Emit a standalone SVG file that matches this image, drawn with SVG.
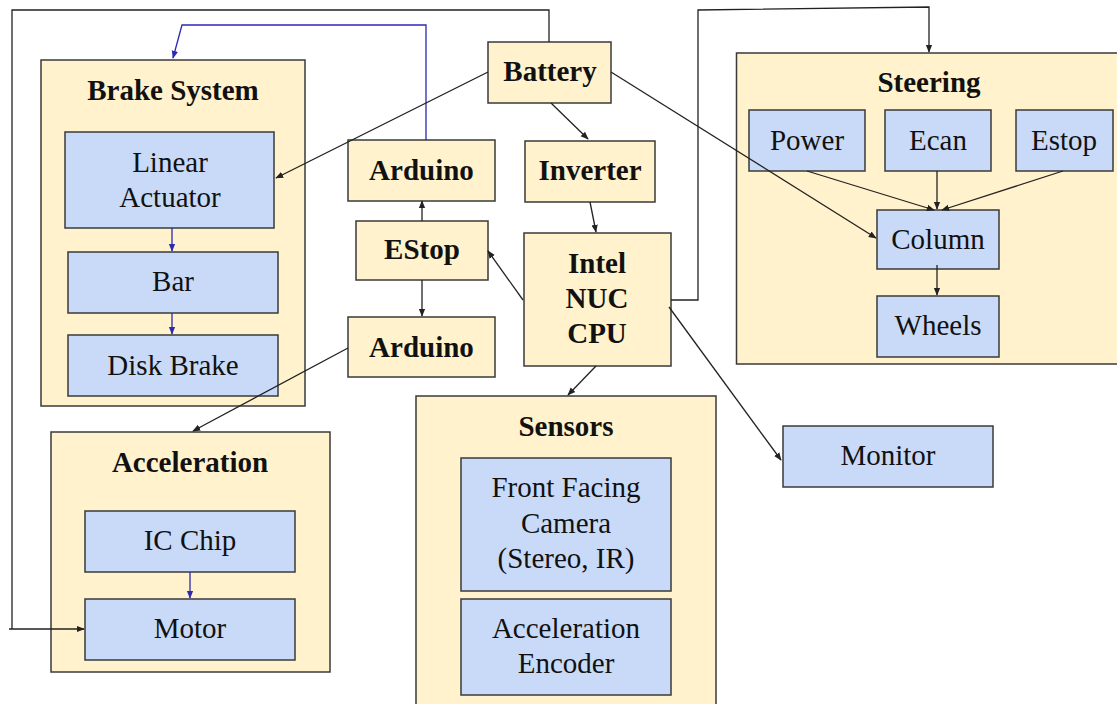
<svg xmlns="http://www.w3.org/2000/svg" width="1117" height="704" viewBox="0 0 1117 704">
<style>
.grp{fill:#fff2cc;stroke:#3a3a3a;stroke-width:1.5}
.box{fill:#c9daf8;stroke:#3a3a3a;stroke-width:1.5}
.t{font-family:"Liberation Serif","Times New Roman",serif;font-size:29px;fill:#111;text-anchor:middle}
.b{font-weight:bold}
.c{fill:none;stroke:#222;stroke-width:1.3}
.cb{fill:none;stroke:#2a2ab4;stroke-width:1.3}
</style>
<defs>
<marker id="ah" viewBox="0 0 10 10" refX="9" refY="5" markerWidth="8" markerHeight="8" markerUnits="userSpaceOnUse" orient="auto"><path d="M0,1 L10,5 L0,9 z" fill="#222"/></marker>
<marker id="ahb" viewBox="0 0 10 10" refX="9" refY="5" markerWidth="8" markerHeight="8" markerUnits="userSpaceOnUse" orient="auto"><path d="M0,1 L10,5 L0,9 z" fill="#2a2ab4"/></marker>
</defs>
<rect width="1117" height="704" fill="#ffffff"/>

<g id="brake-system">
<rect class="grp" x="41" y="60" width="264" height="346"/>
<text class="t b" x="173" y="100">Brake System</text>
</g>
<g id="linear-actuator">
<rect class="box" x="65" y="132" width="209" height="96"/>
<text class="t" x="170" y="172">Linear</text>
<text class="t" x="170" y="207">Actuator</text>
</g>
<g id="bar">
<rect class="box" x="68" y="252" width="210" height="61"/>
<text class="t" x="173" y="291">Bar</text>
</g>
<g id="disk-brake">
<rect class="box" x="68" y="335" width="210" height="61"/>
<text class="t" x="173" y="375">Disk Brake</text>
</g>

<g id="battery">
<rect class="grp" x="488" y="42" width="123" height="61"/>
<text class="t b" x="550" y="81">Battery</text>
</g>
<g id="arduino-top">
<rect class="grp" x="348" y="140" width="147" height="61"/>
<text class="t b" x="421.5" y="180">Arduino</text>
</g>
<g id="estop">
<rect class="grp" x="356" y="221" width="132" height="59"/>
<text class="t b" x="422" y="259">EStop</text>
</g>
<g id="arduino-bottom">
<rect class="grp" x="348" y="317" width="147" height="60"/>
<text class="t b" x="421.5" y="357">Arduino</text>
</g>
<g id="inverter">
<rect class="grp" x="525" y="141" width="130" height="61"/>
<text class="t b" x="590" y="180">Inverter</text>
</g>
<g id="intel-nuc">
<rect class="grp" x="524" y="233" width="147" height="133"/>
<text class="t b" x="597" y="273">Intel</text>
<text class="t b" x="597" y="308">NUC</text>
<text class="t b" x="597" y="343">CPU</text>
</g>

<g id="steering">
<rect class="grp" x="736.5" y="53" width="385" height="311"/>
<text class="t b" x="929" y="92">Steering</text>
</g>
<g id="power">
<rect class="box" x="749" y="110" width="116" height="61"/>
<text class="t" x="807" y="150">Power</text>
</g>
<g id="ecan">
<rect class="box" x="885" y="110" width="106" height="61"/>
<text class="t" x="938" y="150">Ecan</text>
</g>
<g id="estop-steering">
<rect class="box" x="1016" y="110" width="97" height="61"/>
<text class="t" x="1064" y="150">Estop</text>
</g>
<g id="column">
<rect class="box" x="877" y="210" width="122" height="59"/>
<text class="t" x="938" y="249">Column</text>
</g>
<g id="wheels">
<rect class="box" x="877" y="296" width="122" height="61"/>
<text class="t" x="938" y="335">Wheels</text>
</g>

<g id="monitor">
<rect class="box" x="783" y="426" width="210" height="61"/>
<text class="t" x="888" y="465">Monitor</text>
</g>

<g id="sensors">
<rect class="grp" x="416" y="396" width="300" height="330"/>
<text class="t b" x="566" y="436">Sensors</text>
</g>
<g id="front-camera">
<rect class="box" x="461" y="458" width="210" height="133"/>
<text class="t" x="566" y="497">Front Facing</text>
<text class="t" x="566" y="533">Camera</text>
<text class="t" x="566" y="568">(Stereo, IR)</text>
</g>
<g id="acceleration-encoder">
<rect class="box" x="461" y="599" width="210" height="96"/>
<text class="t" x="566" y="638">Acceleration</text>
<text class="t" x="566" y="673">Encoder</text>
</g>

<g id="acceleration">
<rect class="grp" x="51" y="432" width="279" height="240"/>
<text class="t b" x="190" y="472">Acceleration</text>
</g>
<g id="ic-chip">
<rect class="box" x="85" y="511" width="210" height="61"/>
<text class="t" x="190" y="550">IC Chip</text>
</g>
<g id="motor">
<rect class="box" x="85" y="599" width="210" height="61"/>
<text class="t" x="190" y="638">Motor</text>
</g>

<g id="connectors">
<path class="c" d="M549,42 V10 H12 V629 M9,629 H84" marker-end="url(#ah)"/>
<path class="cb" d="M426,140 V25 H182 L173,58" marker-end="url(#ahb)"/>
<path class="c" d="M488,72 L276,178" marker-end="url(#ah)"/>
<path class="c" d="M551,103 L588,139" marker-end="url(#ah)"/>
<path class="c" d="M611,72 L876,238" marker-end="url(#ah)"/>
<path class="c" d="M590,202 L596,232" marker-end="url(#ah)"/>
<path class="c" d="M523,300 L488,251" marker-end="url(#ah)"/>
<path class="c" d="M422,221 V201" marker-end="url(#ah)"/>
<path class="c" d="M422,280 V316" marker-end="url(#ah)"/>
<path class="c" d="M348,348 L193,431" marker-end="url(#ah)"/>
<path class="c" d="M671,300 H698 V10 L929,7 V52" marker-end="url(#ah)"/>
<path class="c" d="M669,307 L781,460" marker-end="url(#ah)"/>
<path class="c" d="M596,366 L568,395" marker-end="url(#ah)"/>
<path class="c" d="M807,171 L934,210" marker-end="url(#ah)"/>
<path class="c" d="M937,171 V209" marker-end="url(#ah)"/>
<path class="c" d="M1063,171 L942,210" marker-end="url(#ah)"/>
<path class="c" d="M937,265 V295" marker-end="url(#ah)"/>
<path class="cb" d="M172,228 V251" marker-end="url(#ahb)"/>
<path class="cb" d="M172,313 V334" marker-end="url(#ahb)"/>
<path class="cb" d="M190,572 V598" marker-end="url(#ahb)"/>
</g>
</svg>
